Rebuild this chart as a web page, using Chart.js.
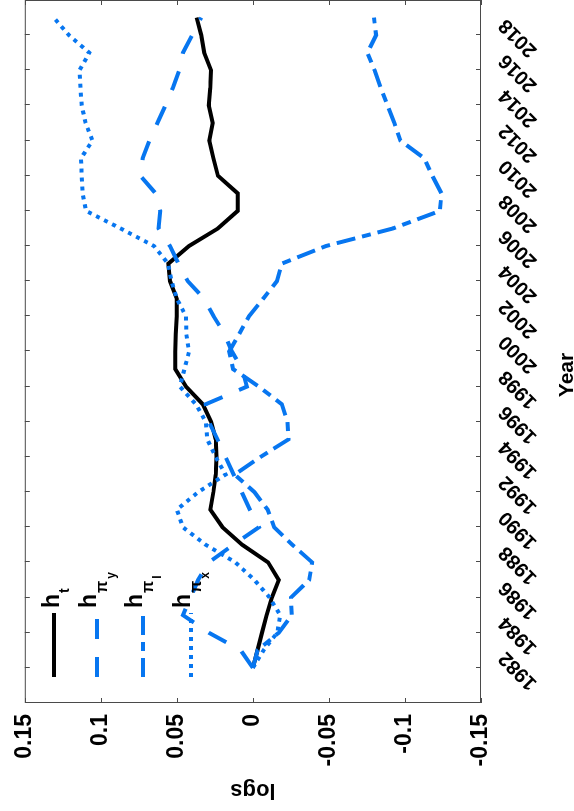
<!DOCTYPE html>
<html>
<head>
<meta charset="utf-8">
<script src="https://cdn.jsdelivr.net/npm/chart.js@4.4.1/dist/chart.umd.min.js"></script>
<style>
  html, body { margin: 0; padding: 0; background: #fff; overflow: hidden; width: 574px; height: 811px; }
  /* the figure is laid out landscape and turned a quarter turn counter-clockwise */
  #figure { position: absolute; left: 0; top: 0; width: 811px; height: 574px;
            transform-origin: 0 0; transform: translate(0, 811px) rotate(-90deg); }
  canvas { display: block; }
</style>
</head>
<body>
<div id="figure"><canvas id="chart" width="811" height="574"></canvas></div>
<script>
// Annual observations, 1982-2019
const years = [1982,1983,1984,1985,1986,1987,1988,1989,1990,1991,1992,1993,1994,1995,1996,1997,1998,1999,2000,
               2001,2002,2003,2004,2005,2006,2007,2008,2009,2010,2011,2012,2013,2014,2015,2016,2017,2018,2019];

const hT   = [0.000,-0.003,-0.006,-0.009,-0.0125,-0.017,-0.010,0.007,0.020,0.028,
              0.026,0.0245,0.024,0.0245,0.0275,0.033,0.044,0.051,0.051,0.0507,
              0.050,0.050,0.0545,0.0556,0.042,0.023,0.010,0.010,0.023,0.026,
              0.0286,0.0264,0.029,0.028,0.0275,0.032,0.034,0.037];

const hPiY = [0.000,0.008,0.029,0.046,0.041,0.036,0.029,0.013,-0.004,0.002,
              0.0073,0.0127,0.018,0.0233,0.029,0.031,0.004,0.007,0.0138,0.0186,
              0.0258,0.032,0.0428,0.049,0.0545,0.062,0.061,0.064,0.074,0.0725,
              0.068,0.0628,0.0575,0.0527,0.0485,0.046,0.040,0.034];

const hPiI = [0.000,-0.003,-0.017,-0.0255,-0.025,-0.037,-0.039,-0.026,-0.014,-0.0097,
              -0.001,0.012,-0.005,-0.0234,-0.0227,-0.019,-0.004,0.013,0.0156,0.009,
              0.0026,-0.0067,-0.0158,-0.019,-0.048,-0.092,-0.123,-0.124,-0.118,-0.1126,
              -0.097,-0.093,-0.0885,-0.084,-0.080,-0.0753,-0.081,-0.0796];

const hPiX = [0.000,-0.007,-0.016,-0.018,-0.011,-0.001,0.0115,0.031,0.046,0.050,
              0.036,0.018,0.0245,0.030,0.031,0.0375,0.048,0.045,0.042,0.0438,
              0.044,0.050,0.0535,0.0558,0.065,0.087,0.1097,0.112,0.1126,0.113,
              0.1055,0.110,0.1126,0.1134,0.114,0.1076,0.121,0.131];

const yearTicks = [1982,1984,1986,1988,1990,1992,1994,1996,1998,2000,2002,2004,2006,2008,2010,2012,2014,2016,2018];
const logTicks = [-0.15,-0.1,-0.05,0,0.05,0.1,0.15];
const logTickLabels = ['-0.15','-0.1','-0.05','0','0.05','0.1','0.15'];

const FONT = '"Liberation Sans", Arial, Helvetica, sans-serif';
const BLUE = '#0776f0';

const toPoints = arr => years.map((yr, i) => ({ x: yr, y: arr[i] }));

// legend entries: label pieces as [text, size, baseline shift, level]
const legendEntries = [
  { ds: 0, y: 54, parts: [['h', 23, 0, 0], ['t', 14, 10, 1]], base: 5 },
  { ds: 1, y: 97, parts: [['h', 23, 0, 0], ['\u03c0', 16, 11, 1], ['y', 12, 19, 2]], base: -1 },
  { ds: 2, y: 143, parts: [['h', 23, 0, 0], ['\u03c0', 16, 11, 1], ['I', 12, 19, 2]], base: -1 },
  { ds: 3, y: 191, parts: [['h', 23, 0, 0], ['\u03c0', 16, 11, 1], ['x', 12, 19, 2]], base: -1 }
];

const boxAndTicks = {
  id: 'boxAndTicks',
  afterDatasetsDraw(chart) {
    const { ctx, chartArea: a, scales: { x, y } } = chart;
    ctx.save();
    ctx.strokeStyle = '#4a4a4a';
    ctx.lineWidth = 1;
    ctx.strokeRect(a.left + 0.5, a.top + 0.5, a.right - a.left - 1, a.bottom - a.top - 1);
    ctx.beginPath();
    x.ticks.forEach(t => {
      const px = Math.round(x.getPixelForValue(t.value)) + 0.5;
      ctx.moveTo(px, a.bottom); ctx.lineTo(px, a.bottom - 5);
      ctx.moveTo(px, a.top);    ctx.lineTo(px, a.top + 5);
    });
    y.ticks.forEach(t => {
      const py = Math.round(y.getPixelForValue(t.value)) + 0.5;
      ctx.moveTo(a.left, py);  ctx.lineTo(a.left + 5, py);
      ctx.moveTo(a.right, py); ctx.lineTo(a.right - 5, py);
    });
    ctx.stroke();
    ctx.restore();
  }
};

const seriesKey = {
  id: 'seriesKey',
  afterDraw(chart) {
    const { ctx } = chart;
    ctx.save();
    legendEntries.forEach(e => {
      const ds = chart.data.datasets[e.ds];
      ctx.strokeStyle = ds.borderColor;
      ctx.lineWidth = ds.borderWidth;
      ctx.setLineDash(ds.borderDash || []);
      ctx.lineCap = 'butt';
      ctx.beginPath();
      ctx.moveTo(134, e.y);
      ctx.lineTo(198, e.y);
      ctx.stroke();
      ctx.setLineDash([]);
      ctx.fillStyle = '#000';
      ctx.textBaseline = 'alphabetic';
      ctx.textAlign = 'left';
      let px = 203;
      e.parts.forEach(([txt, size, shift, level]) => {
        ctx.font = 'bold ' + size + 'px ' + FONT;
        if (level > 0) px += 1;
        ctx.fillText(txt, px, e.y + e.base + shift);
        px += ctx.measureText(txt).width + (level > 0 ? 1 : 0);
      });
    });
    // horizontal axis name
    ctx.font = 'bold 21px ' + FONT;
    ctx.textAlign = 'center';
    ctx.textBaseline = 'middle';
    ctx.fillText('Year', 436, 567);
    ctx.restore();
  }
};

new Chart(document.getElementById('chart'), {
  type: 'line',
  data: {
    datasets: [
      { label: 'h_t', data: toPoints(hT), borderColor: '#000', borderWidth: 4, order: 4 },
      { label: 'h_pi_y', data: toPoints(hPiY), borderColor: BLUE, borderWidth: 4, borderDash: [20, 18], order: 3 },
      { label: 'h_pi_I', data: toPoints(hPiI), borderColor: BLUE, borderWidth: 4, borderDash: [19, 7, 9, 7], order: 2 },
      { label: 'h_pi_x', data: toPoints(hPiX), borderColor: BLUE, borderWidth: 4, borderDash: [4, 5], order: 1 }
    ]
  },
  options: {
    responsive: false,
    animation: false,
    devicePixelRatio: 1,
    elements: {
      line: { tension: 0, fill: false, borderCapStyle: 'butt', borderJoinStyle: 'miter' },
      point: { radius: 0, hoverRadius: 0 }
    },
    layout: { padding: { top: 18, right: 0, left: 0, bottom: 0 } },
    plugins: { legend: { display: false }, tooltip: { enabled: false } },
    scales: {
      x: {
        type: 'linear', min: 1980, max: 2020,
        grid: { display: false, drawTicks: false },
        border: { display: false },
        afterBuildTicks: s => { s.ticks = yearTicks.map(v => ({ value: v })); },
        afterFit: s => { s.height = 93; },
        ticks: {
          autoSkip: false, minRotation: 45, maxRotation: 45,
          padding: 13, labelOffset: 13,
          color: '#000', font: { family: FONT, size: 20, weight: 'bold' },
          callback: v => String(v)
        }
      },
      y: {
        type: 'linear', min: -0.15, max: 0.15,
        grid: { display: false, drawTicks: false },
        border: { display: false },
        afterBuildTicks: s => { s.ticks = logTicks.map(v => ({ value: v })); },
        afterFit: s => { s.width = 108; },
        ticks: {
          padding: 11, color: '#000', font: { family: FONT, size: 23, weight: 'bold' },
          callback: v => {
            let k = 0;
            logTicks.forEach((t, i) => { if (Math.abs(t - v) < Math.abs(logTicks[k] - v)) k = i; });
            return logTickLabels[k];
          }
        },
        title: { display: true, text: 'logs', color: '#000', padding: { top: 8, bottom: 0 },
                 font: { family: FONT, size: 22, weight: 'bold' } }
      }
    }
  },
  plugins: [boxAndTicks, seriesKey]
});
</script>
</body>
</html>
